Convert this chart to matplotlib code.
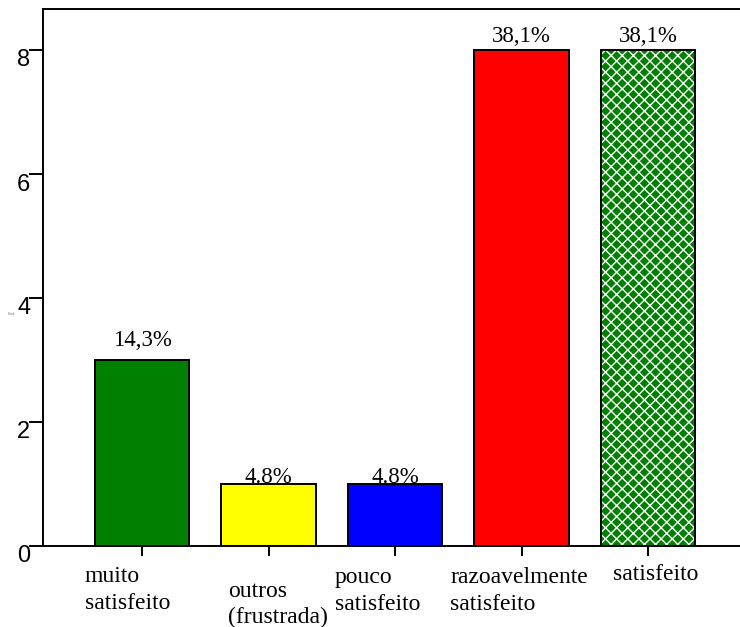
import numpy as np
import matplotlib
matplotlib.use("Agg")
import matplotlib.pyplot as plt
from matplotlib.transforms import ScaledTranslation

# Satisfaction survey: respondent counts per answer
categories = ["muito\nsatisfeito", "outros\n(frustrada)", "pouco\nsatisfeito",
              "razoavelmente\nsatisfeito", "satisfeito"]
counts = [3, 1, 1, 8, 8]
percent_labels = ["14,3%", "4.8%", "4.8%", "38,1%", "38,1%"]
y_ticks = [0, 2, 4, 6, 8]

colors = ["#008000", "#FFFF00", "#0000FF", "#FF0000", "#008000"]
hatched = [False, False, False, False, True]

# label placement (data units relative to each bar)
pct_offset = [0.226, 0.016, 0.016, 0.13, 0.13]
xlab_dx = [-0.451, -0.320, -0.474, -0.565, -0.277]
xlab_y = [-0.581, -0.815, -0.597, -0.597, -0.548]
line_gap = 0.435

serif = "Liberation Serif"
sans = "Liberation Sans"

plt.rcParams["hatch.linewidth"] = 1.0

fig = plt.figure(figsize=(7.4, 6.27), dpi=100)
ax = fig.add_axes([43 / 740, (627 - 546) / 627, (740 - 43) / 740, (546 - 9.3) / 627])

x = np.arange(len(counts))
width = 0.75
for xi, c, col, h in zip(x, counts, colors, hatched):
    if h:
        # fine white cross-hatch over the green fill, black outline on top
        ax.bar(xi, c, width, facecolor=col, edgecolor="white", hatch="xxx",
               linewidth=0, zorder=2)
        ax.bar(xi, c, width, fill=False, edgecolor="black", linewidth=1.4, zorder=3)
    else:
        ax.bar(xi, c, width, color=col, edgecolor="black", linewidth=1.4, zorder=2)

for xi, c, lab, off in zip(x, counts, percent_labels, pct_offset):
    ax.text(xi, c + off, lab, ha="center", va="baseline", fontsize=16.5,
            family=serif, color="black", zorder=4)

for xi, lab, dx, y0 in zip(x, categories, xlab_dx, xlab_y):
    for i, line in enumerate(lab.split("\n")):
        ax.text(xi + dx, y0 - i * line_gap, line, ha="left", va="baseline",
                fontsize=17, family=serif, color="black", clip_on=False)

ax.set_xlim(-(142 - 43) / 126.5, (740 - 142) / 126.5)
ax.set_ylim(0, (546 - 9.3) / 62)

ax.set_xticks(x)
ax.set_xticklabels([])
ax.tick_params(axis="x", direction="out", length=7.5, width=1.4, color="black")

ax.set_yticks(y_ticks)
ax.set_yticklabels([str(t) for t in y_ticks], fontsize=17, family=sans)
ax.tick_params(axis="y", direction="out", length=10, width=1.4, pad=-1, color="black")
shift = ScaledTranslation(0, -0.08, fig.dpi_scale_trans)
for lbl in ax.get_yticklabels():
    lbl.set_transform(lbl.get_transform() + shift)

for side in ["left", "bottom", "top"]:
    ax.spines[side].set_linewidth(1.4)
    ax.spines[side].set_color("black")
ax.spines["right"].set_visible(False)

# axis title, rendered very small
fig.text(8 / 740, 1 - 315 / 627, "Count", fontsize=2, color="#666666",
         family=sans, ha="left", va="baseline")

fig.savefig("out.png", dpi=100)
